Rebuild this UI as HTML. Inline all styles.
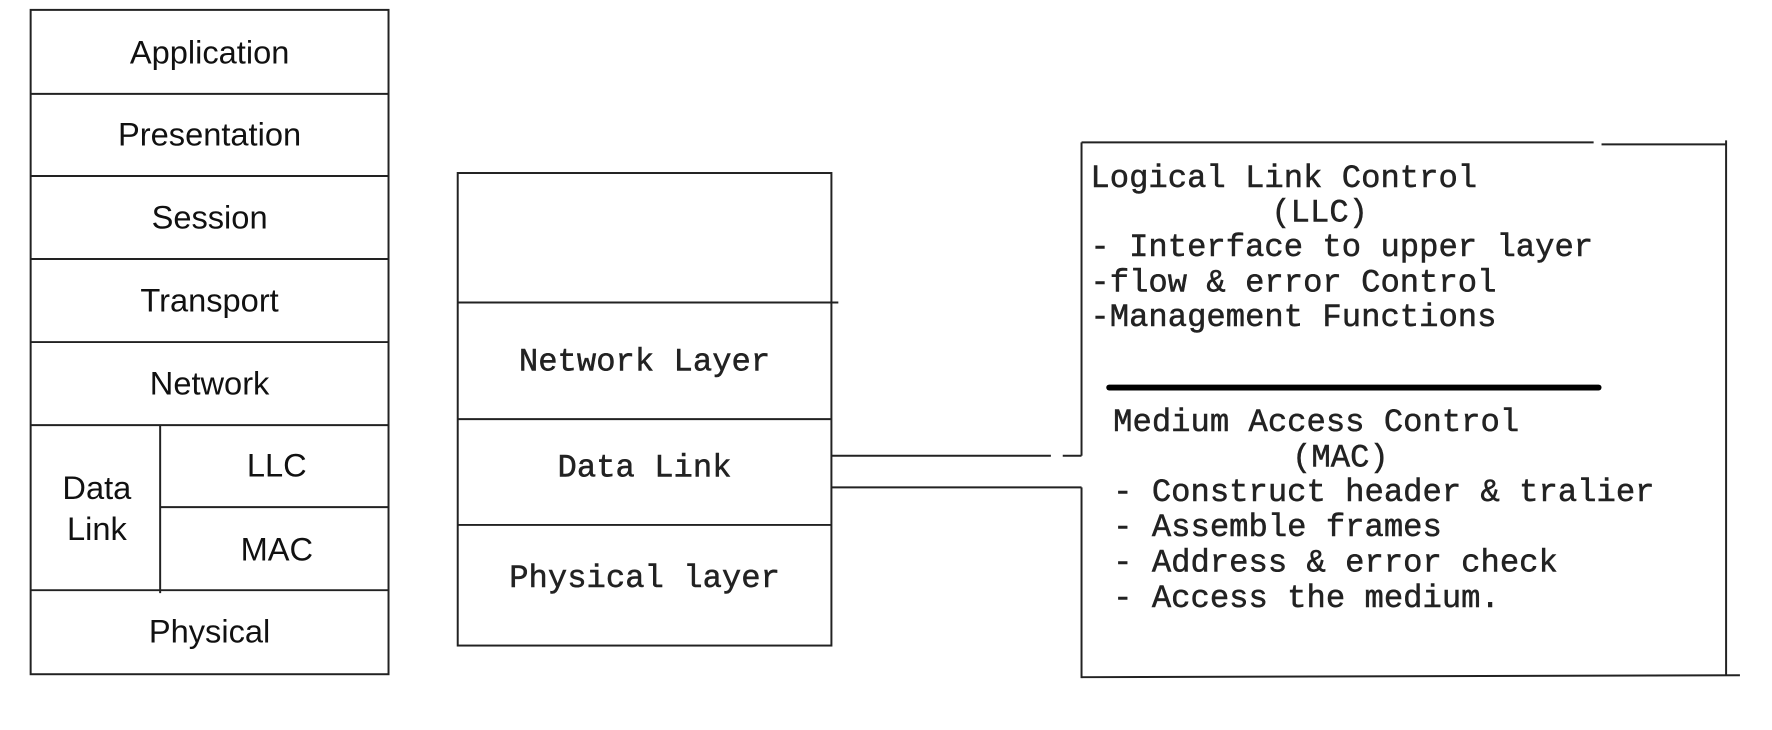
<!DOCTYPE html>
<html><head><meta charset="utf-8"><style>
html,body{margin:0;padding:0;background:#fff;}
svg{display:block;}
.s{font-family:"Liberation Sans",sans-serif;font-size:33px;fill:#111;}
.m{font-family:"Liberation Mono",monospace;font-size:32.6px;fill:#222;stroke:#222;stroke-width:0.5px;}
</style></head><body>
<svg width="1772" height="730" viewBox="0 0 1772 730" xmlns="http://www.w3.org/2000/svg">
<g transform="scale(0.9886)">
<g stroke="#222" stroke-width="2" fill="none">
<rect x="31" y="10" width="362" height="672"/>
<line x1="31" y1="95" x2="393" y2="95"/>
<line x1="31" y1="178" x2="393" y2="178"/>
<line x1="31" y1="262" x2="393" y2="262"/>
<line x1="31" y1="346" x2="393" y2="346"/>
<line x1="31" y1="430" x2="393" y2="430"/>
<line x1="162" y1="513" x2="393" y2="513"/>
<line x1="31" y1="597" x2="393" y2="597"/>
<line x1="162" y1="430" x2="162" y2="600"/>
<rect x="463" y="175" width="378" height="478"/>
<line x1="463" y1="306" x2="848" y2="306"/>
<line x1="463" y1="424" x2="841" y2="424"/>
<line x1="463" y1="531" x2="841" y2="531"/>
<line x1="841" y1="461" x2="1063" y2="461"/>
<line x1="1075" y1="461" x2="1094" y2="461"/>
<line x1="841" y1="493" x2="1094" y2="493"/>
<line x1="1094" y1="144" x2="1094" y2="461"/>
<line x1="1094" y1="493" x2="1094" y2="686"/>
<line x1="1094" y1="144" x2="1612" y2="144"/>
<line x1="1620" y1="146" x2="1746" y2="146"/>
<line x1="1746" y1="142" x2="1746" y2="683"/>
<line x1="1094" y1="685" x2="1760" y2="683"/>
</g>
<line x1="1122" y1="392" x2="1617" y2="392" stroke="#000" stroke-width="6" stroke-linecap="round"/>
<g class="s" text-anchor="middle">
<text x="212" y="64">Application</text>
<text x="212" y="147">Presentation</text>
<text x="212" y="231">Session</text>
<text x="212" y="315">Transport</text>
<text x="212" y="399">Network</text>
<text x="280" y="482">LLC</text>
<text x="280" y="567">MAC</text>
<text x="98" y="505">Data</text>
<text x="98" y="546">Link</text>
<text x="212" y="650">Physical</text>
</g>
<g class="m" text-anchor="middle">
<text x="652" y="375">Network Layer</text>
<text x="652" y="482">Data Link</text>
<text x="652" y="594">Physical layer</text>
</g>
<g class="m">
<text x="1103" y="189">Logical Link Control</text>
<text x="1286" y="224">(LLC)</text>
<text x="1103" y="259">- Interface to upper layer</text>
<text x="1103" y="295">-flow &amp; error Control</text>
<text x="1103" y="330">-Management Functions</text>
<text x="1126" y="436">Medium Access Control</text>
<text x="1307" y="472">(MAC)</text>
<text x="1126" y="507">- Construct header &amp; tralier</text>
<text x="1126" y="542">- Assemble frames</text>
<text x="1126" y="578">- Address &amp; error check</text>
<text x="1126" y="614">- Access the medium.</text>
</g>
</g>
</svg>
</body></html>
